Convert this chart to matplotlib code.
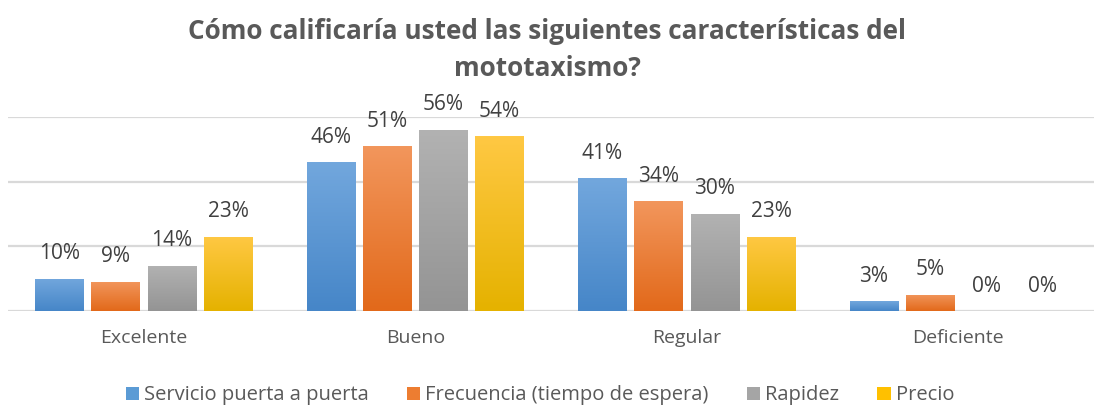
import matplotlib.pyplot as plt
import matplotlib.colors as mcolors
import numpy as np

categories = ["Excelente", "Bueno", "Regular", "Deficiente"]
series_names = ["Servicio puerta a puerta", "Frecuencia (tiempo de espera)", "Rapidez", "Precio"]
servicio = [10, 46, 41, 3]
frecuencia = [9, 51, 34, 5]
rapidez = [14, 56, 30, 0]
precio = [23, 54, 23, 0]
series = [servicio, frecuencia, rapidez, precio]

# gradient colours (top, bottom) per series
colors = [("#72a7dd", "#4686c8"), ("#f2965c", "#e2691a"),
          ("#b2b2b2", "#949494"), ("#ffc843", "#e5b200")]
legend_colors = ["#5b9bd5", "#ed7d31", "#a5a5a5", "#ffc000"]

plt.rcParams['font.family'] = ['Open Sans', 'DejaVu Sans']
text_gray = "#595959"

fig = plt.figure(figsize=(10.94, 4.05), dpi=100)
ax = fig.add_axes([8 / 1094, 94 / 405, 1086 / 1094, 194 / 405])

x = np.arange(len(categories))
width = 0.178
step = 0.207

for i, (vals, name) in enumerate(zip(series, series_names)):
    offs = (i - 1.5) * step
    bars = ax.bar(x + offs, vals, width, color=legend_colors[i], label=name, zorder=2)
    cmap = mcolors.LinearSegmentedColormap.from_list("g%d" % i, [colors[i][1], colors[i][0]])
    for b, v in zip(bars, vals):
        if v > 0:
            bx, by = b.get_x(), b.get_y()
            img = ax.imshow(np.linspace(0, 1, 100).reshape(-1, 1), cmap=cmap, origin="lower",
                            extent=[bx, bx + b.get_width(), by, by + b.get_height()],
                            aspect="auto", zorder=3)
            img.set_clip_path(b)
        ax.annotate("%d%%" % v, (b.get_x() + b.get_width() / 2, v), xytext=(0, 18),
                    textcoords="offset points", ha="center", va="center",
                    fontsize=15, color="#404040")

ax.set_xlim(-0.5, 3.5)
ax.set_ylim(0, 60)
ax.set_yticks([0, 20, 40, 60])
ax.yaxis.grid(True, color="#d9d9d9", linewidth=1.6, zorder=0)
ax.set_yticklabels([])
ax.tick_params(axis="y", length=0)
ax.tick_params(axis="x", length=0, pad=13)
ax.set_xticks(x)
ax.set_xticklabels(categories, fontsize=14, color=text_gray)
for s in ax.spines.values():
    s.set_visible(False)

fig.text(0.5, 0.876, "Cómo calificaría usted las siguientes características del\nmototaxismo?",
         ha="center", va="center", fontsize=18.8, fontweight="bold", color=text_gray,
         linespacing=1.45)

leg = ax.legend(loc="center", bbox_to_anchor=(0.49, -0.435), ncol=4, frameon=False,
                fontsize=14.5, handlelength=0.65, handleheight=0.65, handletextpad=0.25,
                columnspacing=1.9)
for t in leg.get_texts():
    t.set_color(text_gray)

fig.savefig("out.png", dpi=100)
